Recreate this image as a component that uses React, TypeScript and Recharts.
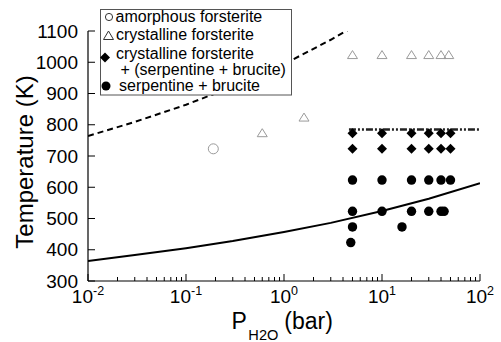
import React from 'react';
import { ScatterChart, Scatter, XAxis, YAxis } from 'recharts';

// pressure in bar, temperature in K
const amorphous = [{ p: 0.19, t: 723 }];

const crystalline = [
  { p: 0.6, t: 773 },
  { p: 1.6, t: 823 },
  { p: 5, t: 1023 },
  { p: 10, t: 1023 },
  { p: 20, t: 1023 },
  { p: 30, t: 1023 },
  { p: 40, t: 1023 },
  { p: 48, t: 1023 },
];

const crystallineSerp = [
  { p: 5, t: 773 }, { p: 10, t: 773 }, { p: 20, t: 773 },
  { p: 30, t: 773 }, { p: 40, t: 773 }, { p: 50, t: 773 },
  { p: 5, t: 723 }, { p: 10, t: 723 }, { p: 20, t: 723 },
  { p: 30, t: 723 }, { p: 40, t: 723 }, { p: 50, t: 723 },
];

const serpBrucite = [
  { p: 5, t: 623 }, { p: 10, t: 623 }, { p: 20, t: 623 },
  { p: 30, t: 623 }, { p: 40, t: 623 }, { p: 50, t: 623 },
  { p: 5, t: 523 }, { p: 10, t: 523 }, { p: 20, t: 523 },
  { p: 30, t: 523 }, { p: 40, t: 523 }, { p: 43, t: 523 },
  { p: 5, t: 473 }, { p: 16, t: 473 },
  { p: 4.8, t: 423 },
];

const solidCurve = [
  { p: 0.01, t: 364 }, { p: 0.03, t: 383 }, { p: 0.1, t: 405 },
  { p: 0.3, t: 428 }, { p: 1, t: 457 }, { p: 3, t: 486 },
  { p: 10, t: 524 }, { p: 30, t: 563 }, { p: 100, t: 613 },
];

const dashedCurve = [
  { p: 0.01, t: 764 }, { p: 0.03, t: 809 }, { p: 0.1, t: 864 },
  { p: 0.3, t: 922 }, { p: 1, t: 994 }, { p: 3, t: 1072 },
  { p: 4.6, t: 1105 },
];

const dashDotLine = [{ p: 4.6, t: 785 }, { p: 100, t: 785 }];

const xTicks = [
  0.01, 0.02, 0.03, 0.04, 0.05, 0.06, 0.07, 0.08, 0.09,
  0.1, 0.2, 0.3, 0.4, 0.5, 0.6, 0.7, 0.8, 0.9,
  1, 2, 3, 4, 5, 6, 7, 8, 9,
  10, 20, 30, 40, 50, 60, 70, 80, 90, 100,
];
const xMajor: Record<string, string> = { '0.01': '-2', '0.1': '-1', '1': '0', '10': '1', '100': '2' };
const yTicks = [300, 400, 500, 600, 700, 800, 900, 1000, 1100];

const FONT = '"Liberation Sans", Arial, Helvetica, sans-serif';
const GRAY = '#9a9a9a';

const XTick = ({ x, y, payload }: any) => {
  const exp = xMajor[String(payload.value)];
  return (
    <g>
      <line x1={x} y1={y} x2={x} y2={y - (exp !== undefined ? 7 : 4)} stroke="#000" strokeWidth={1} />
      {exp !== undefined && (
        <text x={x} y={y + 22} textAnchor="middle" fontSize={19} fontFamily={FONT} fill="#000">
          10<tspan fontSize={12.5} dy={-8}>{exp}</tspan>
        </text>
      )}
    </g>
  );
};

const YTick = ({ x, y, payload }: any) => (
  <g>
    <line x1={x} y1={y} x2={x + 7} y2={y} stroke="#000" strokeWidth={1} />
    <text x={x - 10} y={y + 6.5} textAnchor="end" fontSize={19} fontFamily={FONT} fill="#000">
      {payload.value}
    </text>
  </g>
);

const OpenCircle = ({ cx, cy }: any) => (
  <circle cx={cx} cy={cy} r={5} fill="none" stroke={GRAY} strokeWidth={1} />
);
const OpenTriangle = ({ cx, cy }: any) => (
  <path d={`M${cx},${cy - 4.5}L${cx + 5},${cy + 3.5}L${cx - 5},${cy + 3.5}Z`} fill="none" stroke={GRAY} strokeWidth={1} />
);
const Diamond = ({ cx, cy }: any) => (
  <path d={`M${cx},${cy - 5}L${cx + 5},${cy}L${cx},${cy + 5}L${cx - 5},${cy}Z`} fill="#000" />
);
const Dot = ({ cx, cy }: any) => <circle cx={cx} cy={cy} r={4.7} fill="#000" />;
const NoShape = () => <g />;

export default function App() {
  return (
    <div style={{ position: 'absolute', left: 0, top: 0, width: 501, height: 342, background: '#fff' }}>
      <ScatterChart width={501} height={342} margin={{ top: 31, right: 21, bottom: 1, left: 0 }}>
        <XAxis
          dataKey="p"
          type="number"
          scale="log"
          domain={[0.01, 100]}
          ticks={xTicks}
          interval={0}
          allowDataOverflow
          height={60}
          tickSize={0}
          tickMargin={0}
          tickLine={false}
          tick={<XTick />}
          axisLine={{ stroke: '#000', strokeWidth: 1.2 }}
        />
        <YAxis
          dataKey="t"
          type="number"
          domain={[300, 1100]}
          ticks={yTicks}
          interval={0}
          allowDataOverflow
          width={88}
          tickSize={0}
          tickMargin={0}
          tickLine={false}
          tick={<YTick />}
          axisLine={{ stroke: '#000', strokeWidth: 1.2 }}
        />
        <Scatter data={solidCurve} line={{ stroke: '#000', strokeWidth: 2 }} lineType="joint" shape={<NoShape />} isAnimationActive={false} />
        <Scatter data={dashedCurve} line={{ stroke: '#000', strokeWidth: 2, strokeDasharray: '6 4' }} lineType="joint" shape={<NoShape />} isAnimationActive={false} />
        <Scatter data={dashDotLine} line={{ stroke: '#222', strokeWidth: 2.5, strokeDasharray: '7 2 2 2 2 2' }} lineType="joint" shape={<NoShape />} isAnimationActive={false} />
        <Scatter data={amorphous} shape={<OpenCircle />} isAnimationActive={false} />
        <Scatter data={crystalline} shape={<OpenTriangle />} isAnimationActive={false} />
        <Scatter data={crystallineSerp} shape={<Diamond />} isAnimationActive={false} />
        <Scatter data={serpBrucite} shape={<Dot />} isAnimationActive={false} />
      </ScatterChart>
      <svg width={501} height={342} style={{ position: 'absolute', left: 0, top: 0, pointerEvents: 'none' }} fontFamily={FONT}>
        <text transform="translate(33,162) rotate(-90)" textAnchor="middle" fontSize={24} fill="#000">
          Temperature (K)
        </text>
        <text x={231.5} y={328.5} fontSize={23} fill="#000">
          P<tspan fontSize={14.6} dx={1.5} dy={11}>H2O</tspan>
          <tspan dx={6} dy={-11}>(bar)</tspan>
        </text>
        <rect x={100.5} y={9.5} width={191} height={85.5} fill="#fff" stroke="#555" strokeWidth={1} />
        <circle cx={109} cy={17} r={3.6} fill="none" stroke="#333" strokeWidth={1} />
        <path d="M108.5,31L113.5,39.5L103.5,39.5Z" fill="none" stroke="#333" strokeWidth={1} />
        <path d="M105,52.5L110,57.5L105,62.5L100,57.5Z" fill="#000" />
        <circle cx={106} cy={86} r={4.5} fill="#000" />
        <g fontSize={16} fill="#000">
          <text x={115.5} y={21.5}>amorphous forsterite</text>
          <text x={116} y={40}>crystalline forsterite</text>
          <text x={116} y={58.5}>crystalline forsterite</text>
          <text x={120.5} y={75}>+ (serpentine + brucite)</text>
          <text x={119} y={91}>serpentine + brucite</text>
        </g>
      </svg>
    </div>
  );
}
